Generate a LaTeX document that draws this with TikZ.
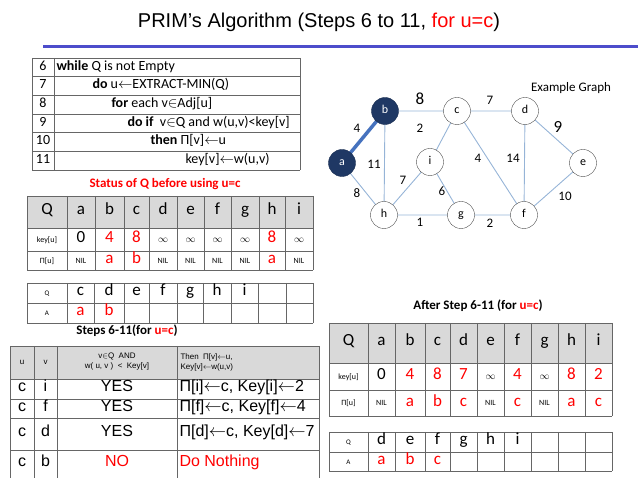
\documentclass[tikz,border=0pt]{standalone}
\usepackage{fontspec}
\setmainfont{Carlito}
\newfontfamily\arial{Liberation Sans}
\definecolor{edgec}{RGB}{150,180,215}
\definecolor{navy}{RGB}{31,56,100}
\definecolor{thickc}{RGB}{70,114,190}
\begin{document}
\begin{tikzpicture}[x=1pt,y=-1pt,
  grid/.style={draw=black!60,line width=0.6pt},
  hdr/.style={fill=black!15},
  every node/.append style={text height=1.6ex,text depth=0.4ex},
  gnode/.style={circle,draw=black!70,fill=white,minimum size=27pt,inner sep=0pt,font=\fontsize{12}{12}\selectfont},
  sel/.style={gnode,fill=navy,draw=navy!80!black},
  gedge/.style={draw=edgec,line width=0.9pt},
  wl/.style={font=\fontsize{13}{13}\selectfont},
  red/.style={text=red}]
\useasboundingbox (0,0) rectangle (638,478);
% title
\node (title) at (319,25) {\arial\fontsize{20}{20}\selectfont PRIM’s Algorithm (Steps 6 to 11, \textcolor{red}{for u=c})};
\fill[blue!55!gray!90] (43,45) rectangle (638,48);
% pseudocode
\foreach \y in {58,76.7,95.3,114,132.7,151.3,170} \draw[grid] (32,\y) -- (300,\y);
\draw[grid] (32,58) -- (32,170) (54,58) -- (54,170) (300,58) -- (300,170);
\begin{scope}[every node/.style={font=\fontsize{14}{14}\selectfont,text height=1.6ex,text depth=0.4ex}]
\foreach \n [count=\k] in {6,7,8,9,10,11} \node at (43,58+18.67*\k-9.33) {\n};
\node[anchor=west] at (53,67.3) {\textbf{while} Q is not Empty};
\node[anchor=west] at (89,86) {\textbf{do} u$\leftarrow$EXTRACT-MIN(Q)};
\node[anchor=west] at (108,104.7) {\textbf{for} each v$\in$Adj[u]};
\node[anchor=west] at (124,123.3) {\textbf{do if}\ \ v$\in$Q and w(u,v)<key[v]};
\node[anchor=west] at (147,142) {\textbf{then} Π[v]$\leftarrow$u};
\node[anchor=west] at (182,160.7) {key[v]$\leftarrow$w(u,v)};
\end{scope}
\node[text=red,font=\bfseries\fontsize{13}{13}\selectfont] at (165,185) {Status of Q before using u=c};
% table 1
\fill[hdr] (27,196) rectangle (313,228);
\foreach \y in {196,228,251,270} \draw[grid] (27,\y) -- (313,\y);
\foreach \x in {27,67,95,124,149,177,204,231,259,285,313} \draw[grid] (\x,196) -- (\x,270);
\begin{scope}[every node/.style={font=\fontsize{17}{17}\selectfont,text height=1.6ex,text depth=0.4ex}]
\foreach \t/\cx in {Q/47,a/81,b/109.5,c/136.5,d/163,e/190.5,f/217.5,g/245,h/272,i/299} \node at (\cx,212) {\t};
\node at (81,239.5) {0};
\node[red] at (109.5,239.5) {4};
\node[red] at (136.5,239.5) {8};
\node[red] at (272,239.5) {8};
\node[red] at (109.5,261) {a};
\node[red] at (136.5,261) {b};
\node[red] at (272,261) {a};
\end{scope}
\node[font=\fontsize{8}{8}\selectfont] at (47,239.5) {key[u]};
\node[font=\fontsize{8}{8}\selectfont] at (47,260.5) {Π[u]};
\foreach \cx in {163,190.5,217.5,245,299} \node at (\cx,239.5) {$\infty$};
\foreach \cx in {81,163,190.5,217.5,245,299} \node[font=\fontsize{8}{8}\selectfont] at (\cx,260.5) {NIL};
% QA table 1
\foreach \y in {283,303,323} \draw[grid] (27,\y) -- (313,\y);
\foreach \x in {27,67,94,124,149,177,203,231,258,286,313} \draw[grid] (\x,283) -- (\x,323);
\node[font=\fontsize{7}{7}\selectfont] at (47,293) {Q};
\node[font=\fontsize{7}{7}\selectfont] at (47,313) {A};
\foreach \t/\cx in {c/80.5,d/109,e/136.5,f/163,g/190,h/217,i/244.5} \node[font=\fontsize{17}{17}\selectfont] at (\cx,293) {\t};
\node[red,font=\fontsize{17}{17}\selectfont] at (80.5,313) {a};
\node[red,font=\fontsize{17}{17}\selectfont] at (109,313) {b};
\node[font=\bfseries\fontsize{13}{13}\selectfont] at (127,332) {Steps 6-11(for \textcolor{red}{u=c})};
% steps table
\fill[hdr] (10,346) rectangle (319,379);
\foreach \y in {346,379,399,418,450} \draw[grid] (10,\y) -- (319,\y);
\foreach \x in {10,34,57,177,319} \draw[grid] (\x,346) -- (\x,478);
\begin{scope}[every node/.style={font=\arial\fontsize{8}{10}\selectfont}]
\node at (22,362) {u};
\node at (45.5,362) {v};
\node[align=center] at (117,362) {v$\in$Q\ \ AND\\w( u, v )\ \ <\ \ Key[v]};
\node[align=left,anchor=west] at (177,362) {Then\ \ Π[v]$\leftarrow$u,\\Key[v]$\leftarrow$w(u,v)};
\end{scope}
\begin{scope}[every node/.style={font=\arial\fontsize{16}{16}\selectfont,text height=1.6ex,text depth=0.4ex}]
\foreach \v/\y in {i/389,f/408.5,d/434,b/464} {\node at (22,\y) {c}; \node at (45.5,\y) {\v};}
\node at (117,389) {YES};
\node at (117,408.5) {YES};
\node at (117,434) {YES};
\node[red] at (117,464) {NO};
\node[anchor=west] at (176,389) {Π[i]$\leftarrow$c, Key[i]$\leftarrow$2};
\node[anchor=west] at (176,408.5) {Π[f]$\leftarrow$c, Key[f]$\leftarrow$4};
\node[anchor=west] at (176,434) {Π[d]$\leftarrow$c, Key[d]$\leftarrow$7};
\node[red,anchor=west] at (176,464) {Do Nothing};
\end{scope}
% graph edges under nodes: coordinates first
\coordinate (pa) at (342,163); \coordinate (pb) at (385,111);
\draw[gedge] (385,111) -- (457,111) -- (525,111) -- (583,163) -- (524,215) -- (461,215) -- (384,215) -- (342,163);
\draw[gedge] (385,111) -- (384,215) (457,111) -- (430,162) -- (384,215) (430,162) -- (461,215) (457,111) -- (524,215) (525,111) -- (524,215);
\draw[draw=thickc,line width=3.5pt] (pa) -- (pb);
\node[sel,text=white] (a) at (pa) {a};
\node[sel,text=white] (b) at (pb) {b};
\node[gnode] (c) at (457,111) {c};
\node[gnode] (d) at (525,111) {d};
\node[gnode] (e) at (583,163) {e};
\node[gnode] (i) at (430,162) {i};
\node[gnode] (h) at (384,215) {h};
\node[gnode] (g) at (461,215) {g};
\node[gnode] (f) at (524,215) {f};
\node[font=\fontsize{17}{17}\selectfont] at (420,102) {8};
\node[wl] at (490,102) {7};
\node[wl] at (357,130) {4};
\node[wl] at (420,130) {2};
\node[font=\fontsize{17}{17}\selectfont] at (558,130) {9};
\node[wl] at (374,166) {11};
\node[wl] at (478,160) {4};
\node[wl] at (513,160) {14};
\node[wl] at (403,182) {7};
\node[wl] at (442,193) {6};
\node[wl] at (357,195) {8};
\node[wl] at (565,198) {10};
\node[wl] at (420,224) {1};
\node[wl] at (490,225) {2};
\node[font=\fontsize{13}{13}\selectfont] at (571,89) {Example Graph};
% right tables
\node[font=\bfseries\fontsize{13}{13}\selectfont] at (478,307) {After Step 6-11 (for \textcolor{red}{u=c})};
\fill[hdr] (329,323) rectangle (612,363);
\foreach \y in {323,363,390,416} \draw[grid] (329,\y) -- (612,\y);
\foreach \x in {329,368,395,425,450,477,504,531,558,585,612} \draw[grid] (\x,323) -- (\x,416);
\begin{scope}[every node/.style={font=\fontsize{17}{17}\selectfont,text height=1.6ex,text depth=0.4ex}]
\foreach \t/\cx in {Q/348.5,a/381.5,b/410,c/437.5,d/463.5,e/490.5,f/517.5,g/544.5,h/571.5,i/598.5} \node at (\cx,343) {\t};
\node at (381.5,376.5) {0};
\foreach \t/\cx in {4/410,8/437.5,7/463.5,4/517.5,8/571.5,2/598.5} \node[red] at (\cx,376.5) {\t};
\foreach \t/\cx in {a/410,b/437.5,c/463.5,c/517.5,a/571.5,c/598.5} \node[red] at (\cx,403.5) {\t};
\end{scope}
\foreach \cx in {490.5,544.5} \node at (\cx,376.5) {$\infty$};
\node[font=\fontsize{8}{8}\selectfont] at (348.5,376.5) {key[u]};
\node[font=\fontsize{8}{8}\selectfont] at (348.5,403) {Π[u]};
\foreach \cx in {381.5,490.5,544.5} \node[font=\fontsize{8}{8}\selectfont] at (\cx,403) {NIL};
\foreach \y in {432,452,471} \draw[grid] (329,\y) -- (612,\y);
\foreach \x in {329,368,395,425,450,477,504,531,558,585,612} \draw[grid] (\x,432) -- (\x,471);
\node[font=\fontsize{7}{7}\selectfont] at (348.5,442) {Q};
\node[font=\fontsize{7}{7}\selectfont] at (348.5,461.5) {A};
\foreach \t/\cx in {d/381.5,e/410,f/437.5,g/463.5,h/490.5,i/517.5} \node[font=\fontsize{17}{17}\selectfont] at (\cx,442) {\t};
\foreach \t/\cx in {a/381.5,b/410,c/437.5} \node[red,font=\fontsize{17}{17}\selectfont] at (\cx,461.5) {\t};
\end{tikzpicture}
\end{document}
